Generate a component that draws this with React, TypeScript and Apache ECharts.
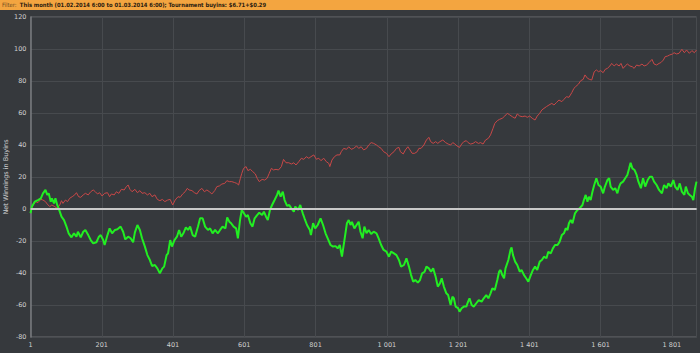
import React, { useEffect, useRef } from "react";
import * as echarts from "echarts";

const titleLabel = "Filter:";
const titleText = "This month (01.02.2014 6:00 to 01.03.2014 6:00); Tournament buyins: $6.71+$0.29";
const yAxisName = "Net Winnings in Buyins";
const yMin = -80;
const yMax = 120;
const yStep = 20;
const lastGame = 1870;
const xStep = 200;

const redGames = [1,8,15,22,30,36,43,48,55,61,69,76,83,88,92,99,105,111,118,125,130,136,142,149,155,163,170,177,183,189,195,202,209,217,223,228,236,242,249,256,264,270,275,280,286,294,301,308,314,322,329,336,342,350,357,364,371,378,386,
393,400,407,415,421,428,435,441,446,454,461,468,474,482,489,496,503,510,518,524,531,538,546,552,559,566,574,580,585,590,594,599,606,611,618,624,632,637,643,651,658,665,671,677,683,690,697,705,711,718,726,733,740,746,754,761,768,
775,782,788,796,803,810,816,824,831,838,841,847,854,861,869,873,880,888,894,901,908,916,922,929,936,944,950,957,964,972,978,985,992,1000,1007,1013,1021,1028,1035,1039,1047,1053,1060,1066,1072,1079,1086,1091,1097,1105,1112,1119,1124,1131,1138,1144,1150,
1158,1166,1173,1180,1186,1192,1198,1205,1211,1217,1224,1229,1236,1243,1250,1258,1264,1271,1278,1286,1292,1299,1304,1311,1317,1325,1332,1339,1346,1353,1361,1367,1374,1381,1389,1395,1402,1409,1417,1423,1430,1436,1442,1449,1456,1464,1470,1477,1484,1492,1498,1505,1512,1520,1526,1531,
1539,1545,1552,1557,1564,1570,1576,1583,1589,1595,1601,1608,1614,1620,1627,1632,1639,1645,1653,1658,1664,1670,1676,1683,1690,1695,1702,1709,1717,1723,1730,1737,1745,1751,1758,1765,1770,1777,1782,1789,1795,1803,1807,1814,1821,1829,1836,1842,1850,1857,1864,1870];

const redValues = [-0.6,2.5,4.6,4,6,5.6,4.6,3.1,1.5,2.5,1.5,0.4,2.5,5.2,3.5,5.6,4.6,6.7,7.7,8.8,10.2,7.7,7.3,8.8,9.8,8.8,10.8,11.9,10.8,9.4,10.2,8.1,9.8,10.2,7.7,9.4,8.8,10.8,9.8,12.3,11.9,14,15,12.3,10.8,12.3,10.2,11.5,9.8,10.2,8.8,9.8,7.7,8.8,6,5.2,6,4.6,5.6,
6,2.5,5.6,7.7,7.3,9.4,10.8,12.9,11.9,11.5,10.2,9.4,11.5,12.9,10.8,11.9,10.8,9.4,11.5,14,14.4,15.6,16,17.7,17.1,17.1,16.5,16,15,19.2,22.3,25.4,26.5,24,24.8,23.5,21.9,19.2,17.1,18.5,18.1,19.2,22.3,25.4,24.4,24.8,24.4,26.5,31,28.9,28.9,28.1,28.9,27.5,29.6,31.7,31,
32.7,31.7,32.7,33.8,31.1,31.7,30.2,31.7,29.6,28.5,26.5,30.6,32.7,33.8,33.8,35.8,37.9,37.3,38.9,37.3,37.9,39.4,37.9,38.9,36.9,37.9,40,41.5,41,40,38.9,37.9,35.8,34.8,32.7,34.4,35.8,37.9,38.5,35.8,34.4,36.9,38.9,36.9,34.8,34.8,35.8,37.9,37.9,40,43.1,44.8,42.1,41,42.1,41,42.1,
43.1,41.5,40.6,40,41.5,40.6,39.4,38.5,40.6,42.1,42.7,41.5,40.6,41,42.1,41,41.5,40.6,43.1,44.2,46.3,50.4,53.5,55.2,56,56.7,58.1,59.8,58.8,57.7,56.7,59.4,58.1,57.7,58.1,57.3,58.1,56.7,55.6,58.1,59.8,61.9,62.9,64,65,66,65,66.5,68.1,67.1,68.5,70.2,69.8,72.7,75.4,76.5,
78.1,80.2,81,83.8,81.7,81,80.6,85.8,86.9,85.8,86.5,85.2,87.3,87.9,89.4,91,89.4,90.6,89.4,91,87.9,89.4,90.6,89.4,88.9,87.9,90,89.4,90.6,89.4,90,91.5,93.5,90.6,90,91,91.5,93.1,95.2,95.6,96.3,96.9,97.7,96.9,97.3,99.8,97.7,99.4,97.3,99,97.7,99.4];

const greenGames = [1,5,13,22,30,36,43,48,52,58,61,67,71,76,80,88,95,102,108,116,123,130,134,142,149,155,163,170,177,186,193,198,205,209,217,223,230,238,245,254,261,267,275,282,289,294,301,308,314,322,329,336,342,350,357,364,371,376,383,387,
393,398,405,412,418,424,430,437,443,449,456,463,471,477,484,491,499,505,512,519,527,533,540,548,553,559,564,571,578,583,589,594,600,606,611,618,624,630,637,643,651,656,662,667,673,679,686,693,697,703,709,714,721,727,733,740,744,752,758,765,770,
777,785,788,794,800,807,815,822,829,835,843,850,857,863,869,875,882,889,894,899,903,910,916,922,927,933,938,944,950,957,964,972,978,985,992,1000,1007,1013,1021,1028,1035,1041,1049,1056,1063,1069,1075,1081,1088,1094,1100,1107,1112,1119,1125,1131,1138,1144,1150,
1155,1161,1168,1173,1180,1185,1189,1194,1201,1205,1211,1217,1224,1229,1233,1239,1245,1252,1259,1267,1273,1280,1286,1292,1297,1304,1311,1316,1320,1325,1330,1334,1342,1348,1351,1355,1361,1367,1374,1379,1386,1392,1398,1405,1411,1417,1423,1430,1436,1442,1449,1454,1461,1467,1473,1480,1486,1492,1498,1503,1508,1512,1517,1522,
1529,1536,1542,1550,1554,1559,1564,1568,1573,1578,1583,1589,1595,1601,1608,1613,1620,1625,1629,1636,1642,1648,1653,1657,1664,1670,1676,1681,1685,1690,1696,1702,1707,1714,1720,1726,1733,1739,1745,1751,1758,1765,1773,1779,1786,1791,1798,1805,1810,1817,1823,1829,1836,1840,1846,1851,1857,1861,1866,1870];

const greenValues = [-2.7,1.5,4.6,5.6,6.7,9.8,11.9,8.8,9.8,4.6,6.7,3.5,6.7,2.5,0.4,-4.8,-6.9,-11,-15.2,-17.7,-15.2,-17.3,-14.2,-17.7,-14.2,-13.1,-16.3,-19.4,-21.5,-20.8,-17.3,-16.3,-19.4,-22.5,-16.3,-12.1,-15.2,-13.1,-12.7,-11,-14.2,-19,-17.3,-18.3,-20.8,-14.6,-10,-13.1,-18.3,-23.5,-28.8,-31.9,-35.6,-35,-37.1,-40.2,-37.1,-36,-28.8,-27.7,
-19.4,-23.5,-19.4,-17.3,-13.1,-17.3,-15.2,-11.5,-13.1,-11,-16.3,-17.3,-11,-5.8,-5.8,-11,-13.1,-12.1,-15.2,-13.1,-15.2,-13.1,-11,-12.1,-5.2,-7.9,-8.9,-11,-12.1,-18.3,-6.9,-0.6,-2.7,-4.8,-3.8,-8.9,-11,-5.8,-3.8,-2.3,-3.8,-1.7,-4.8,-6.9,-0.6,2.5,5.6,8.8,11.5,7.7,10.8,5.6,1.9,2.5,0.4,-1.7,1.5,-0.6,2.5,-2.7,-5.8,
-10,-13.1,-16.3,-8.9,-12.1,-10,-5.8,-10,-15.2,-18.3,-22.5,-23.5,-23.2,-24.6,-22.5,-29.8,-19.4,-8.9,-6.9,-10,-8,-12.1,-10,-8,-14.2,-18.3,-11,-15.2,-13.1,-15.6,-14.2,-15.2,-18.3,-22.5,-25.6,-26.7,-29.8,-26.7,-27.7,-28.8,-31.9,-36,-35,-30.8,-36,-41.3,-45.4,-44.4,-46,-44.4,-40.2,-39.2,-36,-37.1,-39.2,-37.1,-42.3,-48.5,-46.5,
-43.3,-48.5,-52.7,-53.8,-60,-54.8,-55.8,-61,-62,-64.2,-62,-61,-61,-57.9,-55.8,-60,-61,-58.9,-56.9,-57.9,-55.8,-53.8,-55.8,-52.7,-49.6,-50.6,-44.4,-39.2,-38.1,-41.3,-43.3,-37.1,-31.9,-25.6,-24,-28.8,-32.9,-35,-39.2,-38.1,-41.3,-43.3,-45.4,-41.3,-38.1,-36,-38.1,-32.9,-31.9,-29.8,-30.8,-26.7,-27.7,-24.6,-22.5,-22.5,-20.4,-16.3,-15.2,-12.1,-13.1,-8.9,-6.9,-8.9,
-2.7,-0.6,0.4,2.5,5.6,8.8,4.6,7.7,5.6,10.8,15,19.2,15,14,9.8,14,18.1,19.2,14,11.9,13,9.8,14,16,17.1,19.2,21.3,25.4,28.9,25.4,24.4,21.3,17.1,13,19.2,14,18.1,20.2,20.2,17.1,15,11.9,9.8,15,13,16,14,18.1,14,11.9,16,10.8,8.8,14,9.8,8.8,7.7,5.6,13,17.1];

const FONT = "DejaVu Sans";
const TITLE_FONT = "'Liberation Sans Narrow', 'DejaVu Sans Condensed', 'Liberation Sans'";

function fmtGame(v: number): string {
  return String(Math.round(v) + 1).replace(/\B(?=(\d{3})+(?!\d))/g, " ");
}

export default function App() {
  const ref = useRef<HTMLDivElement>(null);
  useEffect(() => {
    if (!ref.current) return;
    const chart = echarts.init(ref.current, null, { renderer: "svg" });
    const red = redGames.map((g, i) => [g - 1, redValues[i]]);
    const green = greenGames.map((g, i) => [g - 1, greenValues[i]]);
    chart.setOption({
      animation: false,
      backgroundColor: "#36393d",
      grid: {
        left: 30.5,
        right: 3.5,
        top: 17,
        bottom: 16,
        containLabel: false,
        outerBoundsMode: "none",
        show: true,
        borderColor: "#6a6d70",
        borderWidth: 1,
        backgroundColor: "transparent",
      },
      graphic: [
        {
          type: "rect",
          left: 0,
          top: 0,
          shape: { width: 700, height: 10 },
          style: { fill: "#f3a540" },
          z: 10,
        },
        {
          type: "text",
          x: 2,
          y: 5,
          z: 11,
          style: {
            text: "{a|" + titleLabel + "} {b|" + titleText + "}",
            verticalAlign: "middle",
            rich: {
              a: { fontFamily: TITLE_FONT, fontSize: 5.8, fill: "#6a4a20", fontWeight: "normal" },
              b: { fontFamily: TITLE_FONT, fontSize: 5.8, fill: "#2a2010", fontWeight: "bold" },
            },
          },
        },
      ],
      xAxis: {
        type: "value",
        min: 0,
        max: lastGame - 1,
        interval: xStep,
        axisLine: { show: true, lineStyle: { color: "#7a7d80", width: 1.5 } },
        axisTick: { show: false },
        axisLabel: {
          formatter: fmtGame,
          color: "#d0d0d0",
          fontFamily: FONT,
          fontSize: 6.5,
          margin: 4,
          showMaxLabel: false,
        },
        splitLine: { show: true, lineStyle: { color: "#474a4e", width: 1 } },
      },
      yAxis: {
        type: "value",
        min: yMin,
        max: yMax,
        interval: yStep,
        name: yAxisName,
        nameLocation: "middle",
        nameGap: 21.5,
        nameMoveOverlap: false,
        nameTextStyle: { color: "#d0d0d0", fontFamily: FONT, fontSize: 6.5 },
        axisLine: { show: true, lineStyle: { color: "#7a7d80", width: 1.5 } },
        axisTick: { show: false },
        axisLabel: { color: "#d0d0d0", fontFamily: FONT, fontSize: 6.5, margin: 4 },
        splitLine: { show: true, lineStyle: { color: "#474a4e", width: 1 } },
      },
      series: [
        {
          type: "line",
          data: red,
          showSymbol: false,
          symbol: "none",
          lineStyle: { color: "#c84848", width: 1 },
          z: 2,
          markLine: {
            silent: true,
            symbol: "none",
            label: { show: false },
            lineStyle: { color: "#c8c8c8", width: 2, type: "solid" },
            data: [{ yAxis: 0 }],
          },
        },
        {
          type: "line",
          data: green,
          showSymbol: false,
          symbol: "none",
          lineStyle: { color: "#22ee22", width: 2 },
          z: 3,
        },
      ],
    });
    return () => chart.dispose();
  }, []);
  return (
    <div
      ref={ref}
      style={{ position: "fixed", left: 0, top: 0, width: 700, height: 353 }}
    />
  );
}
